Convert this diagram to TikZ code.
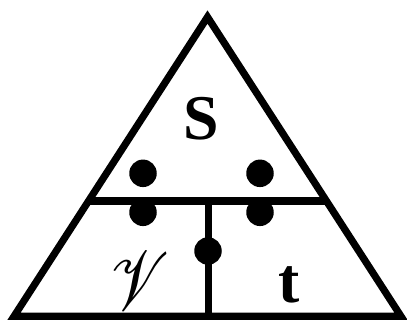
\documentclass[tikz,border=0pt]{standalone}
\usepackage{fontspec}
\setmainfont{Liberation Serif}
\usepackage{mathrsfs}
\usetikzlibrary{calc}
\begin{document}
\begin{tikzpicture}[x=1bp,y=-1bp,
  edge/.style={line width=7.2bp, line join=miter},
  dot/.style={circle, fill=black, inner sep=0pt, minimum size=27.5bp},
  lbl/.style={anchor=base, inner sep=0pt, font=\fontsize{64}{64}\selectfont\bfseries}]
\useasboundingbox (0,0) rectangle (407,320);
\coordinate (A) at (207.5,17);
\coordinate (L) at (14,316.3);
\coordinate (R) at (401,316.3);
\coordinate (HL) at ($(A)!0.6149!(L)$);
\coordinate (HR) at ($(A)!0.6149!(R)$);
\coordinate (VT) at (208.3,198.3);
\coordinate (VB) at (208.3,316.3);
\draw[edge] (HL) -- (HR);
\draw[edge] (VT) -- (VB);
\draw[edge] (A) -- (L) -- (R) -- cycle;
\node[dot] (d1) at (143,173.3) {};
\node[dot] (d2) at (260,173.3) {};
\node[dot] (d3) at (143,212.3) {};
\node[dot] (d4) at (260,212.3) {};
\node[dot] (d5) at (208,251) {};
\node[lbl] (s) at (201.5,139.5) {S};
\node[lbl] (t) at (289,302) {t};
\node[anchor=base, inner sep=0pt] (v) at (139.5,310.5) {\scalebox{6.6}[8.4]{$\mathscr{V}$}};
\end{tikzpicture}
\end{document}
